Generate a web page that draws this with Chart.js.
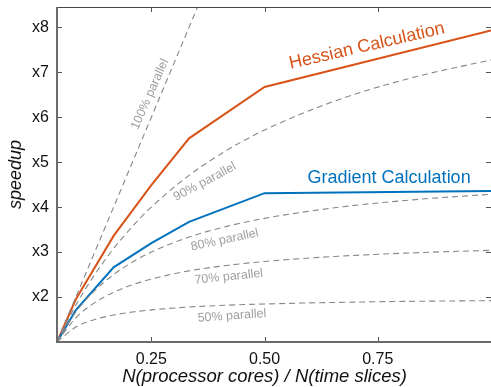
<!DOCTYPE html>
<html>
<head>
<meta charset="utf-8">
<script src="https://cdn.jsdelivr.net/npm/chart.js@4.4.0/dist/chart.umd.min.js"></script>
<style>
  html, body { margin: 0; padding: 0; background: #fff; }
  #wrap { width: 491px; height: 387px; }
</style>
</head>
<body>
<div id="wrap"><canvas id="speedupChart"></canvas></div>
<script>
// Data
// x = N(cores) / N(time slices), 24 time slices
const curveX = [0.0417, 0.0833, 0.125, 0.1667, 0.2083, 0.25, 0.3333, 0.4167, 0.5, 0.6667, 0.8333, 1];
const par50 = [1, 1.333, 1.5, 1.6, 1.667, 1.714, 1.778, 1.818, 1.846, 1.882, 1.905, 1.92];
const par70 = [1, 1.538, 1.875, 2.105, 2.273, 2.4, 2.581, 2.703, 2.791, 2.909, 2.985, 3.038];
const par80 = [1, 1.667, 2.143, 2.5, 2.778, 3.0, 3.333, 3.571, 3.75, 4.0, 4.167, 4.286];
const par90 = [1, 1.818, 2.5, 3.077, 3.571, 4.0, 4.706, 5.263, 5.714, 6.4, 6.897, 7.273];
const par100X = [0.0417, 0.4167];
const par100 = [1, 10];

const measX = [0.0417, 0.0833, 0.1667, 0.25, 0.3333, 0.5, 1];
const hessian = [1, 1.95, 3.36, 4.49, 5.53, 6.67, 7.93];
const gradient = [1, 1.71, 2.66, 3.2, 3.67, 4.31, 4.36];

const xTicks = [0.25, 0.5, 0.75];
const yTicks = [2, 3, 4, 5, 6, 7, 8];
const xTitle = 'N(processor cores) / N(time slices)';

// Text labels: [text, x, y, angle(deg), color, size]
const labels = [
    ['Hessian Calculation', 0.726, 7.58, -13, '#D95319', 18],
    ['Gradient Calculation', 0.775, 4.65, 0, '#0072BD', 18],
    ['100% parallel', 0.247, 6.51, -66, '#a0a0a0', 12.5],
    ['90% parallel', 0.368, 4.56, -28, '#a0a0a0', 12.5],
    ['80% parallel', 0.412, 3.27, -12, '#a0a0a0', 12.5],
    ['70% parallel', 0.421, 2.45, -6, '#a0a0a0', 12.5],
    ['50% parallel', 0.428, 1.58, -4, '#a0a0a0', 12.5]
];

const FONT = '"Liberation Sans", Arial, Helvetica, sans-serif';
const pts = (xs, ys) => xs.map((x, i) => ({ x: x, y: ys[i] }));

const dashed = (xs, ys) => ({
    data: pts(xs, ys),
    borderColor: '#878787',
    borderWidth: 1.1,
    borderDash: [6, 4],
    pointRadius: 0,
    cubicInterpolationMode: 'monotone',
    fill: false
});

const solid = (ys, color) => ({
    data: pts(measX, ys),
    borderColor: color,
    borderWidth: 2,
    pointRadius: 0,
    tension: 0,
    fill: false
});

// Inward ticks + box frame, MATLAB style
const framePlugin = {
    id: 'frame',
    afterDatasetsDraw(chart) {
        const { ctx, chartArea: a, scales } = chart;
        ctx.save();
        ctx.strokeStyle = '#555';
        ctx.lineWidth = 1;
        const len = 5;
        xTicks.forEach(v => {
            const px = Math.round(scales.x.getPixelForValue(v)) + 0.5;
            ctx.beginPath();
            ctx.moveTo(px, a.bottom); ctx.lineTo(px, a.bottom - len);
            ctx.moveTo(px, a.top); ctx.lineTo(px, a.top + len);
            ctx.stroke();
        });
        yTicks.forEach(v => {
            const py = Math.round(scales.y.getPixelForValue(v)) + 0.5;
            ctx.beginPath();
            ctx.moveTo(a.left, py); ctx.lineTo(a.left + len, py);
            ctx.moveTo(a.right, py); ctx.lineTo(a.right - len, py);
            ctx.stroke();
        });
        ctx.strokeStyle = '#444';
        ctx.beginPath();
        ctx.moveTo(a.left, a.top + 0.5); ctx.lineTo(a.right, a.top + 0.5);
        ctx.stroke();
        ctx.strokeStyle = '#6b6b6b';
        ctx.lineWidth = 2;
        ctx.beginPath();
        ctx.moveTo(a.left, a.top); ctx.lineTo(a.left, a.bottom); ctx.lineTo(a.right, a.bottom);
        ctx.stroke();

        // x axis title, centred under the 0.5 tick like the original
        ctx.font = 'italic 18.5px ' + FONT;
        ctx.fillStyle = '#111';
        ctx.textAlign = 'center';
        ctx.textBaseline = 'middle';
        ctx.fillText(xTitle, scales.x.getPixelForValue(0.5), 377);

        // text annotations
        labels.forEach(([text, x, y, ang, color, size]) => {
            ctx.save();
            ctx.translate(scales.x.getPixelForValue(x), scales.y.getPixelForValue(y));
            ctx.rotate(ang * Math.PI / 180);
            ctx.font = size + 'px ' + FONT;
            ctx.fillStyle = color;
            ctx.textAlign = 'center';
            ctx.textBaseline = 'middle';
            ctx.fillText(text, 0, 0);
            ctx.restore();
        });
        ctx.restore();
    }
};

const chart = new Chart(document.getElementById('speedupChart'), {
    type: 'line',
    data: {
        datasets: [
            dashed(curveX, par50),
            dashed(curveX, par70),
            dashed(curveX, par80),
            dashed(curveX, par90),
            dashed(par100X, par100),
            solid(gradient, '#0072BD'),
            solid(hessian, '#D95319')
        ]
    },
    options: {
        responsive: true,
        maintainAspectRatio: false,
        animation: false,
        layout: { padding: { top: 7, right: 0, left: 0, bottom: 0 } },
        plugins: { legend: { display: false }, tooltip: { enabled: false } },
        scales: {
            x: {
                type: 'linear',
                min: 0.0417,
                max: 1,
                afterBuildTicks: s => { s.ticks = xTicks.map(v => ({ value: v })); },
                afterFit: s => { s.height = 45; s.paddingLeft = 0; s.paddingRight = 0; },
                grid: { display: false, drawTicks: false },
                border: { display: false },
                ticks: {
                    color: '#111',
                    padding: 8,
                    font: { family: FONT, size: 16 },
                    callback: v => v.toFixed(2)
                }
            },
            y: {
                type: 'linear',
                min: 1,
                max: 8.45,
                afterBuildTicks: s => { s.ticks = yTicks.map(v => ({ value: v })); },
                afterFit: s => { s.width = 57; s.paddingTop = 0; s.paddingBottom = 0; },
                grid: { display: false, drawTicks: false },
                border: { display: false },
                ticks: {
                    color: '#111',
                    padding: 8,
                    font: { family: FONT, size: 16 },
                    callback: v => 'x' + v
                },
                title: {
                    display: true,
                    text: 'speedup',
                    color: '#111',
                    padding: { top: 5, bottom: 0 },
                    font: { family: FONT, size: 18, style: 'italic' }
                }
            }
        }
    },
    plugins: [framePlugin]
});
</script>
</body>
</html>
